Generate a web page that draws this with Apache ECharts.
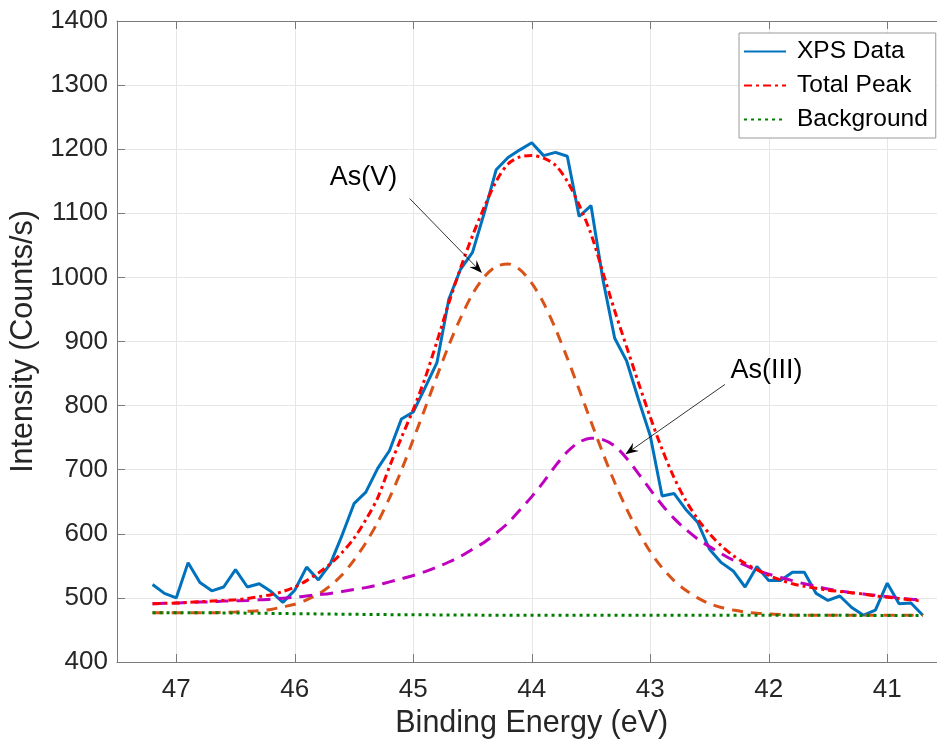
<!DOCTYPE html>
<html><head><meta charset="utf-8">
<script src="https://cdn.jsdelivr.net/npm/echarts@6/dist/echarts.min.js"></script>
<style>html,body{margin:0;padding:0;background:#fff}#c{width:937px;height:744px}</style>
</head><body><div id="c"></div>
<script>
// Binding energy (eV) of each sample
const bindingEnergy = [47.2,47.1,47.0,46.9,46.8,46.7,46.6,46.5,46.4,46.3,
  46.2,46.1,46.0,45.9,45.8,45.7,45.6,45.5,45.4,45.3,
  45.2,45.1,45.0,44.9,44.8,44.7,44.6,44.5,44.4,44.3,
  44.2,44.1,44.0,43.9,43.8,43.7,43.6,43.5,43.4,43.3,
  43.2,43.1,43.0,42.9,42.8,42.7,42.6,42.5,42.4,42.3,
  42.2,42.1,42.0,41.9,41.8,41.7,41.6,41.5,41.4,41.3,
  41.2,41.1,41.0,40.9,40.8,40.7];
const xpsData = [521,507,500,555,524,511,517,544,517,522,
  510,493,512,548,528,553,598,647,665,702,
  730,779,790,828,867,966,1013,1039,1101,1168,
  1187,1199,1210,1190,1195,1189,1095,1112,997,905,
  870,810,753,659,663,638,618,576,555,542,
  517,549,527,527,540,540,507,496,503,485,
  473,481,523,491,492,473];
const totalPeak = [491,491.5,492,493,494,495,496,497,499,502,
  505,510,517,527,539,553,571,593,622,656,
  705,750,794,843,900,960,1015,1065,1110,1150,
  1177,1188,1190,1186,1175,1150,1113,1068,1008,948,
  892,836,782,732,688,652,623,600,581,566,
  554,544,535,528,522,518,515,512,510,508,
  506,503,501,499,497,495];
const background = [477,477,477,477,477,476.8,476.6,476.4,476.2,476,
  475.8,475.6,475.4,475.2,475,474.8,474.6,474.4,474.2,474,
  473.9,473.8,473.7,473.6,473.5,473.4,473.3,473.2,473.1,473,
  473,473,473,473,473,473,473,473,473,473,
  473,473,473,473,473,473,473,473,473,473,
  472.8,472.8,472.8,472.8,472.8,472.8,472.8,472.8,472.8,472.8,
  472.6,472.6,472.6,472.6,472.6,472.6];
const asV = [477,477,477,477,477,477,477.5,478,479,480,
  482,486,490,497,506,519,536,559,586,618,
  656,699,747,796,846,894,937,974,1001,1017,
  1021,1012,991,960,920,874,825,775,726,680,
  639,603,572,547,527,512,500,491,485,481,
  478,476,475,474,473,473,473,473,473,473,
  473,473,473,473,473,473];
const asIII = [491,491.5,492,493,493.5,494,495,495.5,496,497,
  498,499.5,501,503,505,507,510,513,516,520,
  525,530,535,541,548,556,565,576,587,601,
  617,637,658,681,706,728,743,749,747,737,
  718,694,669,645,624,607,592,580,569,559,
  551,543,537,532,527,522,518,514,511,508,
  506,504,502,500,498,497];
const yTicks = [400,500,600,700,800,900,1000,1100,1200,1300,1400];
const xTickLabels = [41,42,43,44,45,46,47];
const annotations = [
  {text:'As(V)', at:[45.42,1156], from:[45.03,1123], to:[44.42,1007]},
  {text:'As(III)', at:[42.02,854], from:[42.37,833], to:[43.21,724]}
];

const FONT = '"Liberation Sans", Arial, Helvetica, sans-serif';
const pairs = arr => bindingEnergy.map((x,i)=>[x, arr[i]]);
const chart = echarts.init(document.getElementById('c'), null, {renderer:'canvas'});
const axisCol = '#7a7a7a';
chart.setOption({
  animation:false,
  backgroundColor:'#fff',
  grid:{left:117, right:-9.5, top:21, bottom:82, containLabel:false, outerBoundsMode:'none'},
  xAxis:[{
    type:'value', inverse:true, min:40.5, max:47.5, splitNumber:7,
    name:'Binding Energy (eV)', nameLocation:'middle', nameGap:44,
    nameTextStyle:{fontFamily:FONT, fontSize:30.5, color:'#262626'},
    axisLine:{show:true, onZero:false, lineStyle:{color:axisCol, width:1}},
    axisTick:{show:true, inside:true, length:8, lineStyle:{color:axisCol}},
    axisLabel:{fontFamily:FONT, fontSize:26, color:'#262626', margin:15,
      formatter:v => xTickLabels.includes(Math.round(v*1000)/1000) ? String(Math.round(v)) : ''},
    splitLine:{show:true, lineStyle:{color:'#e6e6e6', width:1}}
  },{
    type:'value', inverse:true, min:40.5, max:47.5, splitNumber:7, position:'top',
    axisLine:{show:true, onZero:false, lineStyle:{color:axisCol, width:1}},
    axisTick:{show:true, inside:true, length:8, lineStyle:{color:axisCol}},
    axisLabel:{show:false}, splitLine:{show:false}
  }],
  yAxis:{
    type:'value', min:yTicks[0], max:yTicks[yTicks.length-1], interval:100,
    name:'Intensity (Counts/s)', nameLocation:'middle', nameGap:68,
    nameTextStyle:{fontFamily:FONT, fontSize:30.5, color:'#262626'},
    axisLine:{show:true, onZero:false, lineStyle:{color:axisCol, width:1}},
    axisTick:{show:true, inside:true, length:8, lineStyle:{color:axisCol}},
    axisLabel:{fontFamily:FONT, fontSize:26, color:'#262626', margin:9,
      formatter:v => String(v)},
    splitLine:{show:true, lineStyle:{color:'#e6e6e6', width:1}}
  },
  legend:{
    orient:'vertical', left:739, top:33,
    padding:[6,8,6,4], itemGap:9, itemWidth:42, itemHeight:14,
    backgroundColor:'#fff', borderColor:'#9a9a9a', borderWidth:1,
    itemStyle:{opacity:0},
    textStyle:{fontFamily:FONT, fontSize:24.5, color:'#000', lineHeight:24, padding:[0,0,0,6]},
    data:['XPS Data','Total Peak','Background']
  },
  series:[
    {name:'XPS Data', type:'line', data:pairs(xpsData), showSymbol:false, symbol:'none',
      lineStyle:{color:'#0072BD', width:3}, itemStyle:{color:'#0072BD'}, z:2},
    {name:'As(V)', type:'line', data:pairs(asV), showSymbol:false, symbol:'none', smooth:0.3,
      lineStyle:{color:'#D95319', width:3, type:[11,8]}, itemStyle:{color:'#D95319'}, z:3},
    {name:'As(III)', type:'line', data:pairs(asIII), showSymbol:false, symbol:'none', smooth:0.3,
      lineStyle:{color:'#BF00BF', width:3, type:[13,8]}, itemStyle:{color:'#BF00BF'}, z:3},
    {name:'Total Peak', type:'line', data:pairs(totalPeak), showSymbol:false, symbol:'none', smooth:0.3,
      lineStyle:{color:'#FF0000', width:3, type:[8,4,3,4]}, itemStyle:{color:'#FF0000'}, z:4},
    {name:'Background', type:'line', data:pairs(background), showSymbol:false, symbol:'none',
      lineStyle:{color:'#008000', width:3, type:[3,4]}, itemStyle:{color:'#008000'}, z:3}
  ]
});

const g = [];
annotations.forEach(a => {
  const p0 = chart.convertToPixel({gridIndex:0}, a.from);
  const p1 = chart.convertToPixel({gridIndex:0}, a.to);
  const pt = chart.convertToPixel({gridIndex:0}, a.at);
  const ang = Math.atan2(p1[1]-p0[1], p1[0]-p0[0]);
  const L = 13, W = 5, N = 0.65;
  const c = Math.cos(ang), s = Math.sin(ang);
  const rot = (dx,dy) => [p1[0] + dx*c - dy*s, p1[1] + dx*s + dy*c];
  g.push({type:'line', shape:{x1:p0[0], y1:p0[1], x2:rot(-L*N,0)[0], y2:rot(-L*N,0)[1]},
    style:{stroke:'#000', lineWidth:0.8}, z:10});
  g.push({type:'polygon', shape:{points:[rot(0,0), rot(-L,W), rot(-L*N,0), rot(-L,-W)]},
    style:{fill:'#000'}, z:10});
  g.push({type:'text', x:pt[0], y:pt[1], style:{text:a.text, fontFamily:FONT, fontSize:27,
    fill:'#000', align:'center', verticalAlign:'middle'}, z:10});
});
chart.setOption({graphic:g});
</script>
</body></html>
